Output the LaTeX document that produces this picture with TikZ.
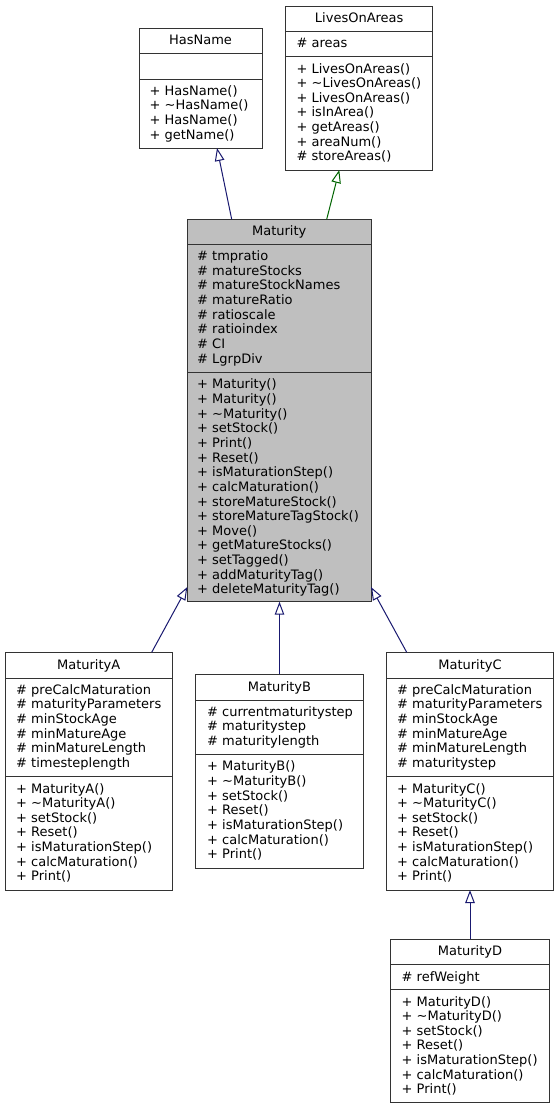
\documentclass[tikz,border=0pt]{standalone}
\usepackage{fontspec}
\setmainfont{DejaVu Sans}
\usetikzlibrary{arrows.meta}
\definecolor{edgeblue}{RGB}{25,25,112}
\definecolor{edgegreen}{RGB}{0,100,0}
\definecolor{boxline}{RGB}{51,51,51}
\definecolor{mainfill}{RGB}{191,191,191}
\tikzset{
  classbox/.style={draw=boxline, line width=1pt, fill=white, anchor=north west, inner sep=0pt, outer sep=0pt},
  mainbox/.style={classbox, fill=mainfill},
  sepline/.style={draw=boxline, line width=1pt},
  titletext/.style={anchor=base, inner sep=0pt, font=\fontsize{13}{15}\selectfont},
  membertext/.style={anchor=base west, inner sep=0pt, font=\fontsize{13}{15}\selectfont},
  inherit/.style={draw=edgeblue, line width=1pt, -{Triangle[open, length=13pt, width=9.5pt]}},
  inheritg/.style={inherit, draw=edgegreen},
}
\begin{document}
\begin{tikzpicture}[x=1pt,y=-1pt]
\fill[white] (0,0) rectangle (559,1109);
\useasboundingbox (0,0) rectangle (559,1109);

% ---------- HasName ----------
\node[classbox, minimum width=123pt, minimum height=120pt] (hn) at (139,28) {};
\draw[sepline] (139,53) -- (262,53);
\draw[sepline] (139,79) -- (262,79);
\node[titletext] (hn-t) at (200.5,44.1) {HasName};
\foreach \s [count=\i from 0] in {+ HasName(), + \textasciitilde HasName(), + HasName(), + getName()}
  \node[membertext] (hn-m\i) at (149.4,{95.1+14.65*\i}) {\s};

% ---------- LivesOnAreas ----------
\node[classbox, minimum width=147pt, minimum height=164pt] (loa) at (285.7,6) {};
\draw[sepline] (285.7,31.7) -- (432.7,31.7);
\draw[sepline] (285.7,56.7) -- (432.7,56.7);
\node[titletext] (loa-t) at (359.2,22.1) {LivesOnAreas};
\node[membertext] (loa-a0) at (296.4,47.6) {\# areas};
\foreach \s [count=\i from 0] in {+ LivesOnAreas(), + \textasciitilde LivesOnAreas(), + LivesOnAreas(), + isInArea(), + getAreas(), + areaNum(), \# storeAreas()}
  \node[membertext] (loa-m\i) at (296.4,{73+14.65*\i}) {\s};

% ---------- Maturity ----------
\node[mainbox, minimum width=183.7pt, minimum height=382.4pt] (mat) at (187.3,219.3) {};
\draw[sepline] (187.3,244.3) -- (371,244.3);
\draw[sepline] (187.3,372.7) -- (371,372.7);
\node[titletext] (mat-t) at (279.2,235.4) {Maturity};
\foreach \s [count=\i from 0] in {\# tmpratio, \# matureStocks, \# matureStockNames, \# matureRatio, \# ratioscale, \# ratioindex, \# CI, \# LgrpDiv}
  \node[membertext] (mat-a\i) at (197,{260.6+14.65*\i}) {\s};
\foreach \s [count=\i from 0] in {+ Maturity(), + Maturity(), + \textasciitilde Maturity(), + setStock(), + Print(), + Reset(), + isMaturationStep(), + calcMaturation(), + storeMatureStock(), + storeMatureTagStock(), + Move(), + getMatureStocks(), + setTagged(), + addMaturityTag(), + deleteMaturityTag()}
  \node[membertext] (mat-m\i) at (197,{388.8+14.65*\i}) {\s};

% ---------- MaturityA ----------
\node[classbox, minimum width=167.3pt, minimum height=237.7pt] (ma) at (5,652.3) {};
\draw[sepline] (5,678.3) -- (172.3,678.3);
\draw[sepline] (5,776.7) -- (172.3,776.7);
\node[titletext] (ma-t) at (88.7,669.4) {MaturityA};
\foreach \s [count=\i from 0] in {\# preCalcMaturation, \# maturityParameters, \# minStockAge, \# minMatureAge, \# minMatureLength, \# timesteplength}
  \node[membertext] (ma-a\i) at (16,{694.3+14.65*\i}) {\s};
\foreach \s [count=\i from 0] in {+ MaturityA(), + \textasciitilde MaturityA(), + setStock(), + Reset(), + isMaturationStep(), + calcMaturation(), + Print()}
  \node[membertext] (ma-m\i) at (16,{793+14.65*\i}) {\s};

% ---------- MaturityB ----------
\node[classbox, minimum width=167.6pt, minimum height=194pt] (mb) at (195.7,674.3) {};
\draw[sepline] (195.7,700) -- (363.3,700);
\draw[sepline] (195.7,754.3) -- (363.3,754.3);
\node[titletext] (mb-t) at (279.5,691.2) {MaturityB};
\foreach \s [count=\i from 0] in {\# currentmaturitystep, \# maturitystep, \# maturitylength}
  \node[membertext] (mb-a\i) at (207,{716.3+14.65*\i}) {\s};
\foreach \s [count=\i from 0] in {+ MaturityB(), + \textasciitilde MaturityB(), + setStock(), + Reset(), + isMaturationStep(), + calcMaturation(), + Print()}
  \node[membertext] (mb-m\i) at (207,{770.8+14.65*\i}) {\s};

% ---------- MaturityC ----------
\node[classbox, minimum width=166.6pt, minimum height=237.7pt] (mc) at (386.7,652.3) {};
\draw[sepline] (386.7,678.3) -- (553.3,678.3);
\draw[sepline] (386.7,776.7) -- (553.3,776.7);
\node[titletext] (mc-t) at (470,669.4) {MaturityC};
\foreach \s [count=\i from 0] in {\# preCalcMaturation, \# maturityParameters, \# minStockAge, \# minMatureAge, \# minMatureLength, \# maturitystep}
  \node[membertext] (mc-a\i) at (397,{694.3+14.65*\i}) {\s};
\foreach \s [count=\i from 0] in {+ MaturityC(), + \textasciitilde MaturityC(), + setStock(), + Reset(), + isMaturationStep(), + calcMaturation(), + Print()}
  \node[membertext] (mc-m\i) at (397,{793+14.65*\i}) {\s};

% ---------- MaturityD ----------
\node[classbox, minimum width=158.6pt, minimum height=163.4pt] (md) at (390.7,939.3) {};
\draw[sepline] (390.7,964) -- (549.3,964);
\draw[sepline] (390.7,989.3) -- (549.3,989.3);
\node[titletext] (md-t) at (470,955.6) {MaturityD};
\node[membertext] (md-a0) at (401.5,981.2) {\# refWeight};
\foreach \s [count=\i from 0] in {+ MaturityD(), + \textasciitilde MaturityD(), + setStock(), + Reset(), + isMaturationStep(), + calcMaturation(), + Print()}
  \node[membertext] (md-m\i) at (401.5,{1006+14.65*\i}) {\s};

% ---------- inheritance edges ----------
\draw[inherit]  (231.7,0 |- mat.north) -- (217,0 |- hn.south);
\draw[inheritg] (326.7,0 |- mat.north) -- (339.3,0 |- loa.south);
\draw[inherit]  (151.7,0 |- ma.north) -- (mat.west |- 0,587);
\draw[inherit]  (mb.north) -- (mb.north |- mat.south);
\draw[inherit]  (406.7,0 |- mc.north) -- (mat.east |- 0,587);
\draw[inherit]  (md.north) -- (md.north |- mc.south);
\end{tikzpicture}
\end{document}
